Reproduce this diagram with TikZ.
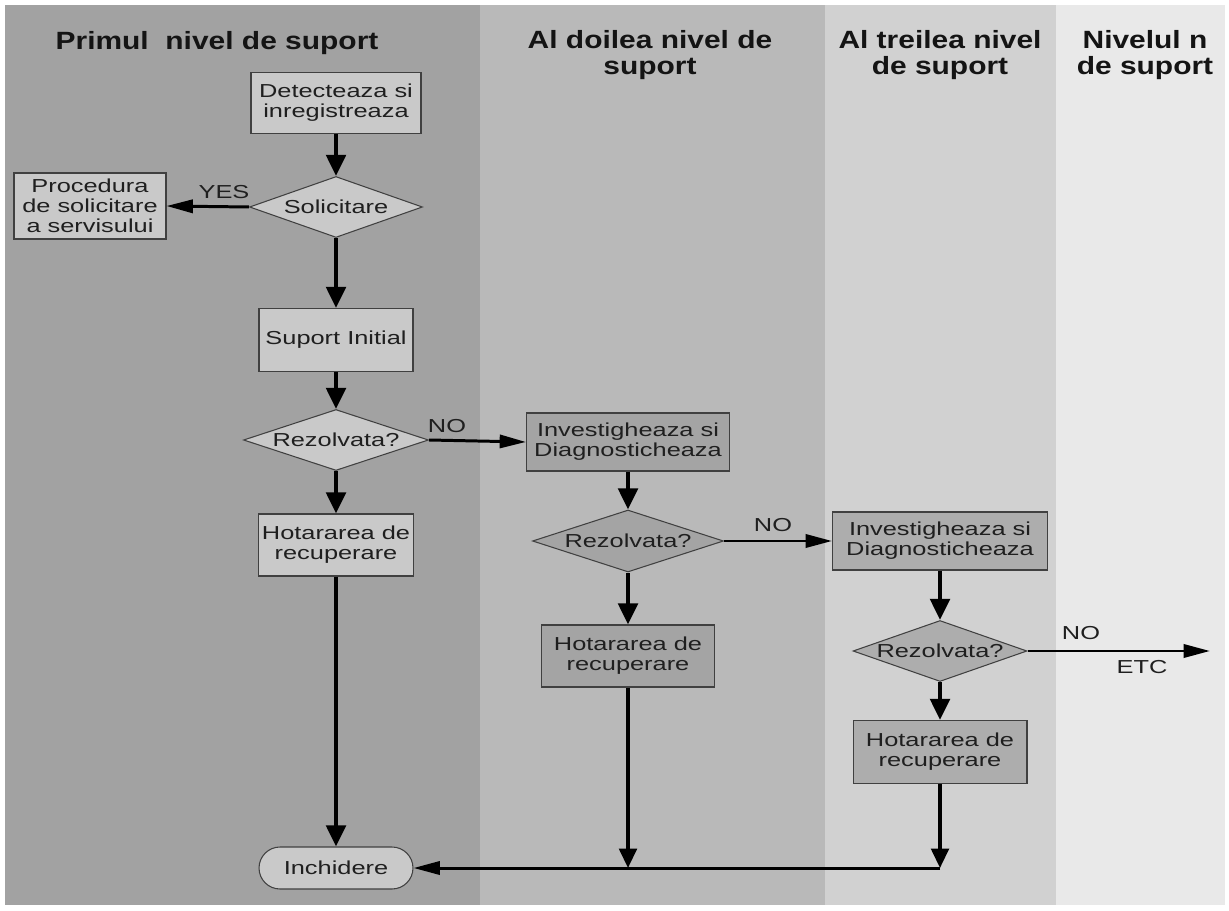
\documentclass[tikz,border=0pt]{standalone}
\usepackage{fontspec}
\setmainfont{Liberation Sans}[FakeStretch=1.35]
\newfontfamily\hdrfont{Liberation Sans}[FakeStretch=1.2]
\usetikzlibrary{arrows.meta,shapes.geometric}
\definecolor{LaneOne}{HTML}{A2A2A2}
\definecolor{LaneTwo}{HTML}{B9B9B9}
\definecolor{LaneThree}{HTML}{D1D1D1}
\definecolor{LaneFour}{HTML}{E9E9E9}
\definecolor{BoxOne}{HTML}{C9C9C9}
\definecolor{BoxTwo}{HTML}{A4A4A4}
\definecolor{BoxThree}{HTML}{ADADAD}
\newcommand{\dlbl}[1]{\makebox[0pt]{#1}}

\begin{document}
\begin{tikzpicture}[x=0.02cm, y=-0.02cm,
  txt/.style={font=\fontsize{10.7}{11.4}\selectfont, text=black!88},
  hdr/.style={font=\hdrfont\bfseries\fontsize{14.2}{14.8}\selectfont, align=center, text=black!92},
  box/.style={txt, draw=black!75, line width=0.6pt, align=center, inner sep=0pt},
  dec/.style={box, diamond, aspect=3},
  arrv/.style={-{Triangle[length=12pt,width=11pt]}, line width=2.4pt},
  arrb/.style={-{Triangle[length=11pt,width=10pt]}, line width=1.9pt},
  arrh/.style={-{Triangle[length=15pt,width=7.5pt]}, line width=1.7pt}]
\useasboundingbox (0,0) rectangle (1229,911);

% lanes
\fill[LaneOne] (5,5) rectangle (480,905);
\fill[LaneTwo] (480,5) rectangle (825,905);
\fill[LaneThree] (825,5) rectangle (1056,905);
\fill[LaneFour] (1056,5) rectangle (1225,905);

% lane titles
\node[hdr] (h1) at (217,43) {Primul\ \ nivel de suport};
\node[hdr] (h2) at (650,55) {Al doilea nivel de\\suport};
\node[hdr] (h3) at (940,55) {Al treilea nivel\\de suport};
\node[hdr] (h4) at (1145,55) {Nivelul n\\de suport};

% first level
\node[box, fill=BoxOne, minimum width=3.4cm, minimum height=1.22cm] (det) at (336,103) {Detecteaza si\\inregistreaza};
\node[dec, fill=BoxOne, minimum width=3.46cm, minimum height=1.22cm] (sol) at (336,207) {\dlbl{Solicitare}};
\node[box, fill=BoxOne, minimum width=3.04cm, minimum height=1.32cm] (proc) at (90,206) {Procedura\\de solicitare\\a servisului};
\node[box, fill=BoxOne, minimum width=3.08cm, minimum height=1.26cm] (sup) at (336,340) {Suport Initial};
\node[dec, fill=BoxOne, minimum width=3.7cm, minimum height=1.22cm] (rez1) at (336,440) {\dlbl{Rezolvata?}};
\node[box, fill=BoxOne, minimum width=3.1cm, minimum height=1.24cm] (hot1) at (336,545) {Hotararea de\\recuperare};
\node[box, fill=BoxOne, rounded corners=0.42cm, minimum width=3.08cm, minimum height=0.84cm] (inch) at (336,868) {Inchidere};

% second level
\node[box, fill=BoxTwo, minimum width=4.06cm, minimum height=1.16cm] (inv2) at (628,442) {Investigheaza si\\Diagnosticheaza};
\node[dec, fill=BoxTwo, minimum width=3.82cm, minimum height=1.24cm] (rez2) at (628,541) {\dlbl{Rezolvata?}};
\node[box, fill=BoxTwo, minimum width=3.46cm, minimum height=1.24cm] (hot2) at (628,656) {Hotararea de\\recuperare};

% third level
\node[box, fill=BoxThree, minimum width=4.3cm, minimum height=1.16cm] (inv3) at (940,541) {Investigheaza si\\Diagnosticheaza};
\node[dec, fill=BoxThree, minimum width=3.48cm, minimum height=1.22cm] (rez3) at (940,651) {\dlbl{Rezolvata?}};
\node[box, fill=BoxThree, minimum width=3.48cm, minimum height=1.26cm] (hot3) at (940,752) {Hotararea de\\recuperare};

\coordinate (etc) at (1210,651);
\coordinate (join2) at (628,868);
\coordinate (join3) at (940,868);

% branch labels
\node[txt] (yes) at (224,192) {YES};
\node[txt] (no1) at (447,426) {NO};
\node[txt] (no2) at (773,525) {NO};
\node[txt] (no3) at (1081,633) {NO};
\node[txt] (etclbl) at (1142,667) {ETC};

% flow
\draw[arrv] (det) -- (sol);
\draw[arrh] (sol.west) -- (proc.east);
\draw[arrv] (sol) -- (sup);
\draw[arrv] (sup) -- (rez1);
\draw[arrh] (rez1.east) -- (inv2.west);
\draw[arrv] (rez1) -- (hot1);
\draw[arrv] (hot1) -- (inch);
\draw[arrv] (inv2) -- (rez2);
\draw[arrh] (rez2.east) -- (inv3.west);
\draw[arrv] (rez2) -- (hot2);
\draw[arrv] (inv3) -- (rez3);
\draw[arrh] (rez3.east) -- (etc);
\draw[arrv] (rez3) -- (hot3);
\draw[arrb] (hot2) -- (join2);
\draw[arrb] (hot3) -- (join3);
\draw[arrh] (join3) -- (inch);
\end{tikzpicture}
\end{document}
